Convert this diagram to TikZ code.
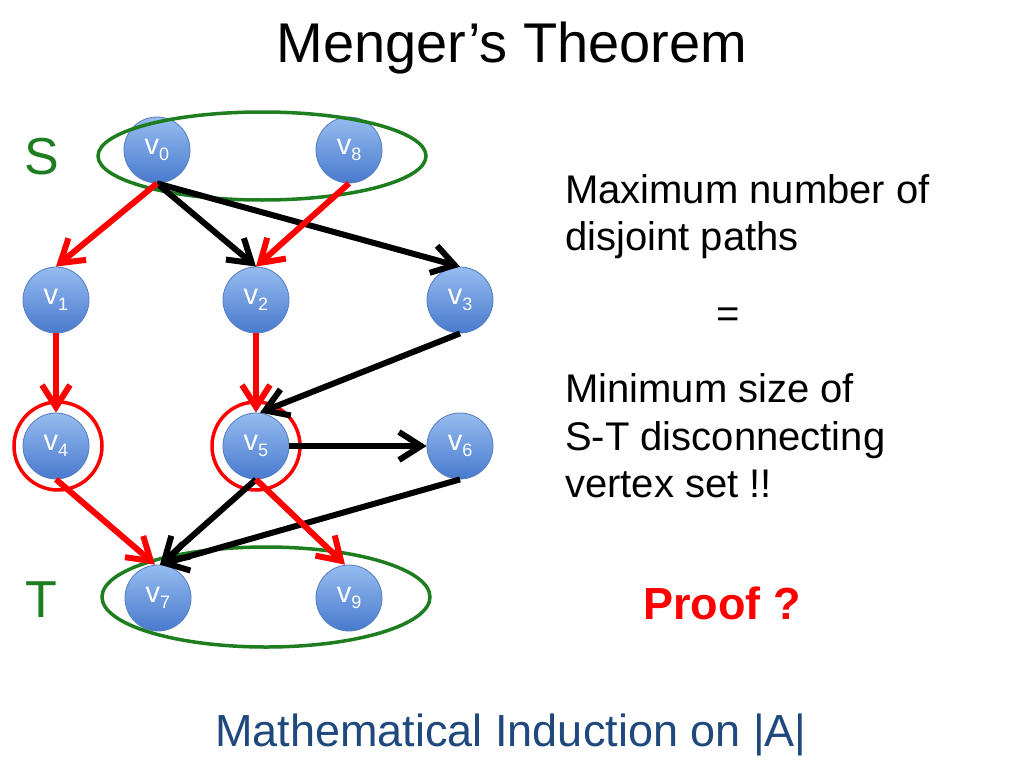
\documentclass[tikz,border=0pt]{standalone}
\usepackage{fontspec}
\setmainfont{Liberation Sans}
\usetikzlibrary{arrows.meta,shapes.geometric}
\definecolor{nodetop}{RGB}{150,188,240}
\definecolor{nodebot}{RGB}{72,122,205}
\definecolor{nodeedge}{RGB}{85,125,190}
\definecolor{myred}{RGB}{255,0,0}
\definecolor{mygreen}{RGB}{30,125,30}
\definecolor{myblue}{RGB}{31,73,125}
\newcommand{\vsub}[1]{v\raisebox{-0.4ex}{\fontsize{18}{18}\selectfont #1}}
\tikzset{
  vert/.style={circle,minimum size=66pt,inner sep=0pt,top color=nodetop,bottom color=nodebot,draw=nodeedge,line width=0.8pt,text=white,font=\fontsize{29}{29}\selectfont},
  redarr/.style={draw=myred,line width=6pt,-{Straight Barb[length=22pt,width=28pt]}},
  blkarr/.style={draw=black,line width=6pt,-{Straight Barb[length=22pt,width=28pt]}},
  setring/.style={draw=mygreen,line width=3.5pt,ellipse},
  cutring/.style={draw=myred,line width=3.5pt,circle},
  body/.style={font=\fontsize{40}{40}\selectfont,anchor=base west,inner sep=0pt}
}
\begin{document}
\begin{tikzpicture}[x=1pt,y=-1pt]
\useasboundingbox (0,0) rectangle (1024,768);
\fill[white] (0,0) rectangle (1024,768);
% title
\node[anchor=base,inner sep=0pt] (title) at (512,63) {\fontsize{56}{56}\selectfont Menger’s Theorem};
% vertices
\node[vert] (v0) at (157,150) {\vsub{0}};
\node[vert] (v8) at (349,150) {\vsub{8}};
\node[vert] (v1) at (56,300) {\vsub{1}};
\node[vert] (v2) at (256,300) {\vsub{2}};
\node[vert] (v3) at (460,300) {\vsub{3}};
\node[vert] (v4) at (56,446) {\vsub{4}};
\node[vert] (v5) at (256,446) {\vsub{5}};
\node[vert] (v6) at (460,446) {\vsub{6}};
\node[vert] (v7) at (158,598) {\vsub{7}};
\node[vert] (v9) at (349,598) {\vsub{9}};
% set rings
\node[setring,minimum width=328pt,minimum height=88pt] (Sring) at (262,156) {};
\node[setring,minimum width=328pt,minimum height=100pt] (Tring) at (266,597) {};
\node[cutring,minimum size=88pt] (c4) at (58,446) {};
\node[cutring,minimum size=88pt] (c5) at (256,446) {};
% labels S, T
\node[text=mygreen,font=\fontsize{52}{52}\selectfont] (S) at (42,157) {S};
\node[text=mygreen,font=\fontsize{52}{52}\selectfont] (T) at (41,600) {T};
% edges
\draw[blkarr] (v0.south) -- (v2.north);
\draw[blkarr] (v0.south) -- (v3.north);
\draw[redarr] (v0.south) -- (v1.north);
\draw[redarr] (v8.south) -- (v2.north);
\draw[redarr] (v1.south) -- (v4.north);
\draw[redarr] (v2.south) -- (v5.north);
\draw[blkarr] (v3.south) -- ([xshift=4pt]v5.north);
\draw[blkarr] (v5.east) -- (v6.west);
\draw[blkarr] (v6.south) -- ([xshift=2pt]v7.north);
\draw[blkarr] (v5.south) -- ([xshift=2pt]v7.north);
\draw[redarr] (v4.south) -- ([xshift=-3pt]v7.north);
\draw[redarr] (v5.south) -- ([xshift=-4pt]v9.north);
% right text
\node[body] (t1a) at (565,203) {Maximum number of};
\node[body] (t1b) at (565,250) {disjoint paths};
\node[font=\fontsize{40}{40}\selectfont] (eq) at (728,318) {=};
\node[body] (t2a) at (565,402) {Minimum size of};
\node[body] (t2b) at (565,450) {S-T disconnecting};
\node[body] (t2c) at (565,497) {vertex set !!};
\node[text=myred,font=\fontsize{45}{45}\selectfont\bfseries] (proof) at (722,603) {Proof ?};
% bottom
\node[text=myblue,font=\fontsize{45}{45}\selectfont] (ind) at (511,735) {Mathematical Induction on |A|};
\end{tikzpicture}
\end{document}
